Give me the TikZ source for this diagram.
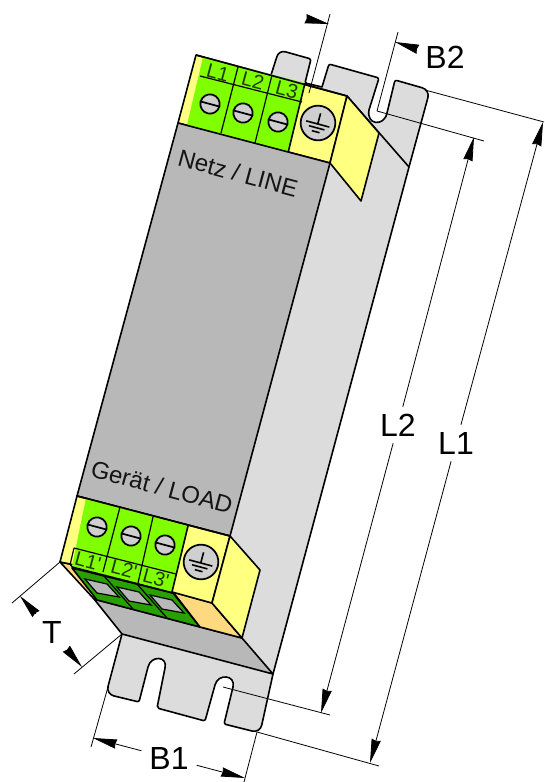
\documentclass[tikz,border=0pt]{standalone}
\usepackage{fontspec}
\setmainfont{Liberation Sans}
\usepackage{xcolor}
\usepackage{tikz}
\usetikzlibrary{arrows.meta}
\definecolor{plategrey}{HTML}{DCDCDC}
\definecolor{bodygrey}{HTML}{B8B8B8}
\definecolor{screwgrey}{HTML}{CFCFCF}
\definecolor{termgreen}{HTML}{80FF00}
\definecolor{darkgreen}{HTML}{28A000}
\definecolor{termyellow}{HTML}{FFFF80}
\definecolor{termorange}{HTML}{FFD980}
\definecolor{labelgreen}{HTML}{1F3D00}
\tikzset{
  outline/.style={draw=black,line width=1.2pt,line join=round},
  thin line/.style={draw=black,line width=0.9pt},
  dim/.style={draw=black,line width=0.6pt},
  dim arrow/.style={dim,-{Stealth[length=18pt,width=7pt,inset=0.8pt]}},
  screw node/.style={circle,draw,line width=1.3pt,fill=screwgrey,minimum size=14.5pt,inner sep=0pt,rotate=-15},
  earth node/.style={circle,draw,line width=1.3pt,fill=screwgrey,minimum size=26pt,inner sep=0pt,rotate=-15},
  term label/.style={font=\fontsize{15}{17}\selectfont,text=labelgreen,rotate=-15,inner sep=0pt},
  face label/.style={font=\fontsize{18}{20}\selectfont,text=black!92,rotate=-15,inner sep=0pt},
  dim label/.style={font=\fontsize{24}{28}\selectfont,inner sep=0pt,minimum height=27pt}
}
\begin{document}
\begin{tikzpicture}[x=0.75pt,y=-0.75pt]
	\useasboundingbox (0,0) rectangle (544,782);
	% mounting plate
	\path [fill=plategrey,outline] (271,75) [rounded corners=5pt] -- (279,50) [rounded corners=1.5pt] -- (311,59) -- (305,83) [sharp corners] -- (322,87)
		[rounded corners=1.5pt] -- (329,64) -- (379,78) [sharp corners] -- (369,110) .. controls (366,125) and (384,127) .. (387,113)
		[rounded corners=1.5pt] -- (395,80) [rounded corners=6pt] -- (430,90) [sharp corners] -- (409,167) -- (273,674)
		[rounded corners=6pt] -- (260,733) [rounded corners=1.5pt] -- (224,724) [sharp corners] -- (233,687) .. controls (236,675) and (218,673) .. (215,685)
		[rounded corners=1.5pt] -- (205,721) -- (157,708) [sharp corners] -- (165,668) .. controls (168,656) and (151,655) .. (148,667)
		[rounded corners=1.5pt] -- (139,702) [rounded corners=6pt] -- (106,694) [sharp corners] -- (122,634) -- cycle;
	\path [outline] (347,96) -- (409,167);
	% top terminals
	\path [fill=termyellow,outline] (196,55) -- (347,96) -- (330,163) -- (178,123) -- cycle;
	\path [fill=termyellow,outline] (347,96) -- (379,133) -- (361,201) -- (330,163) -- cycle;
	\path [fill=termgreen] (203,57) -- (305,83) -- (288,153) -- (187,125) -- cycle;
	\path [outline] (196,55) -- (347,96);
	\path [outline] (305,83) -- (288,153);
	\path [thin line] (200,76) -- (302,102);
	\path [thin line] (238,67) -- (221,133);
	\path [thin line] (272,75) -- (255,143);
	% body
	\path [fill=bodygrey,outline] (178,123) -- (330,163) -- (230,536) -- (77,496) -- cycle;
	% bottom terminals
	\path [fill=bodygrey,outline] (94,599) -- (242,638) -- (273,674) -- (122,634) -- cycle;
	\path [fill=termorange,outline] (60,562) -- (70,564) -- (97,597) -- (94,599) -- cycle;
	\path [fill=darkgreen,outline] (72,568) -- (173,593) -- (200,627) -- (97,600) -- cycle;
	\path [thin line] (104,576) -- (133,609);
	\path [thin line] (137,584) -- (167,618);
	\foreach \ox/\oy in {0/0,32/8,65/16}
		\path [fill=bodygrey,thin line,shift={(\ox,\oy)}] (85,579) -- (107,584) -- (119,597) -- (97,593) -- cycle;
	\path [fill=termorange,outline] (173,592) -- (212,603) -- (242,638) -- (200,627) -- cycle;
	\path [fill=termyellow,outline] (77,496) -- (230,536) -- (212,603) -- (172,592) -- (70,564) -- (60,562) -- cycle;
	\path [fill=termyellow,outline] (230,536) -- (260,570) -- (242,638) -- (212,603) -- cycle;
	\path [fill=termgreen] (86,498) -- (188,526) -- (172,592) -- (72,566) -- cycle;
	\path [outline] (77,496) -- (230,536);
	\path [outline] (188,526) -- (172,592);
	\path [outline] (72,567) -- (173,593);
	\path [thin line] (74,548) -- (176,574);
	\path [thin line] (74,548) -- (70,565);
	\path [thin line] (120,507) -- (103,572);
	\path [thin line] (153,517) -- (138,583);
	% screws
	\foreach \name/\px/\py in {s1/210/104,s2/243/113,s3/278/122,s4/97/527,s5/131/536,s6/165/545} {
		\node [screw node] (\name) at (\px,\py) {};
		\path [draw,line width=1.3pt] (\name.west) -- (\name.east);
	}
	% earth symbols
	\foreach \name/\px/\py in {e1/318/123,e2/201/562} {
		\node [earth node] (\name) at (\px,\py) {};
		\begin{scope}[shift={(\name)},rotate=-15]
			\path [draw,line width=1.2pt] (0,-10) -- (0,1) (-12,1) -- (12,1) (-8,5) -- (8,5) (-4,9) -- (4,9);
		\end{scope}
	}
	% texts on the terminals
	\node [term label] (L1top) at (218,73) {L1};
	\node [term label] (L2top) at (253,81) {L2};
	\node [term label] (L3top) at (287,90) {L3};
	\node [term label] (L1bot) at (88,561) {L1\textquotesingle};
	\node [term label] (L2bot) at (124,569) {L2\textquotesingle};
	\node [term label] (L3bot) at (156,578) {L3\textquotesingle};
	\node [face label] (line) at (238,173) {Netz / LINE};
	\node [face label] (load) at (162,487) {Gerät / LOAD};
	% dimensions
	\node [dim label,minimum width=30pt] (L2) at (398,425) {L2};
	\node [dim label,minimum width=30pt] (L1) at (456,443) {L1};
	\node [dim label,minimum width=41pt] (B1) at (169,758) {B1};
	\node [dim label,minimum width=32pt] (T) at (52,632) {T};
	\node [dim label] (B2) at (445,57) {B2};
	\coordinate (L2up) at (474,137);
	\coordinate (L2down) at (321,713);
	\coordinate (L1up) at (543,122);
	\coordinate (L1down) at (370,763);
	\coordinate (B1left) at (93,738);
	\coordinate (B1right) at (245,778);
	\coordinate (Tup) at (20,596);
	\coordinate (Tdown) at (82,667);
	\coordinate (B2left) at (329,24);
	\coordinate (B2right) at (395,42);
	\coordinate (B2lefttail) at (307,19);
	\coordinate (B2righttail) at (417,49);
	\coordinate (slottop) at (377,111);
	\coordinate (slotbot) at (223,687);
	\coordinate (cornertop) at (425,90);
	\coordinate (cornerbot) at (257,732);
	\coordinate (extL2a) at (484,141);
	\coordinate (extL2b) at (330,715);
	\coordinate (extL1a) at (544,122);
	\coordinate (extL1b) at (379,766);
	\coordinate (extB1a) at (108,687);
	\coordinate (extB1b) at (91,747);
	\coordinate (extB1c) at (244,782);
	\coordinate (extTa) at (60,562);
	\coordinate (extTb) at (12,603);
	\coordinate (extTc) at (122,634);
	\coordinate (extTd) at (74,674);
	\coordinate (extB2a) at (330,14);
	\coordinate (extB2b) at (309,93);
	\coordinate (extB2c) at (398,32);
	\path [dim] (slottop) -- (extL2a);
	\path [dim] (slotbot) -- (extL2b);
	\path [dim] (cornertop) -- (extL1a);
	\path [dim] (cornerbot) -- (extL1b);
	\path [dim] (extB1a) -- (extB1b);
	\path [dim] (cornerbot) -- (extB1c);
	\path [dim] (extTa) -- (extTb);
	\path [dim] (extTc) -- (extTd);
	\path [dim] (extB2a) -- (extB2b);
	\path [dim] (extB2c) -- (slottop);
	\path [dim arrow] (L2) -- (L2up);
	\path [dim arrow] (L2) -- (L2down);
	\path [dim arrow] (L1) -- (L1up);
	\path [dim arrow] (L1) -- (L1down);
	\path [dim arrow] (B1) -- (B1left);
	\path [dim arrow] (B1) -- (B1right);
	\path [dim arrow] (T) -- (Tup);
	\path [dim arrow] (T) -- (Tdown);
	\path [dim arrow] (B2lefttail) -- (B2left);
	\path [dim arrow] (B2righttail) -- (B2right);
\end{tikzpicture}
\end{document}
